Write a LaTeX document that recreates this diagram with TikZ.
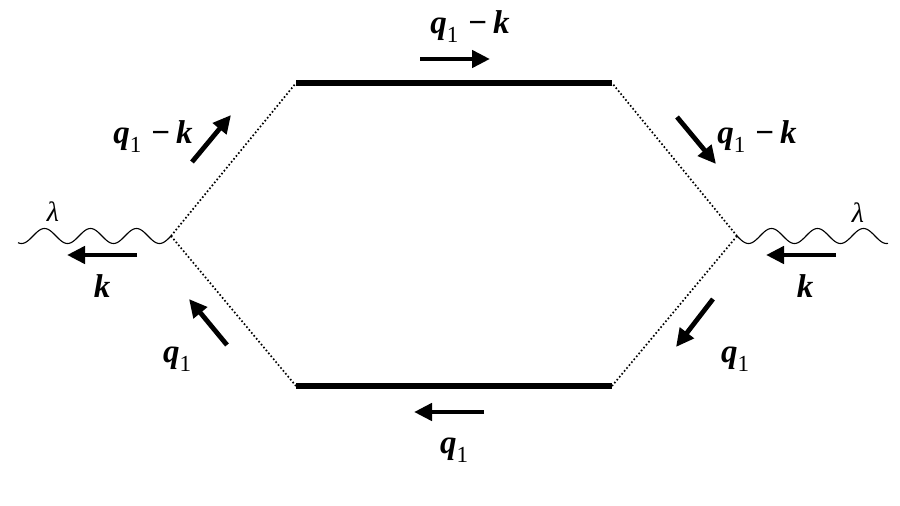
\documentclass[tikz,border=0pt]{standalone}
\usepackage{fontspec}
\setmainfont{Liberation Serif}
\usetikzlibrary{arrows.meta}
\newcommand\qone{{\bfseries\itshape q}\raisebox{-0.28em}{\fontsize{23}{26}\selectfont 1}}
\newcommand\kk{{\bfseries\itshape k}}
\newcommand\qmk{\qone\hspace{10pt}{\bfseries −}\hspace{6pt}\kk}
\tikzset{
  bar/.style={line width=6.5pt},
  prop/.style={line width=1.7pt, dash pattern=on 1.6pt off 2.2pt},
  mom/.style={line width=4.8pt, -{Triangle[length=18pt,width=17pt]}},
  lab/.style={inner sep=0pt, anchor=base, font=\fontsize{33}{36}\selectfont},
  lam/.style={inner sep=0pt, font=\fontsize{28}{32}\selectfont\itshape},
  wave/.style={line width=1.1pt}
}
\begin{document}
\begin{tikzpicture}[x=1pt,y=-1pt]
\useasboundingbox (0,0) rectangle (900,506);
% vertices and bar ends
\coordinate (L) at (171,236);
\coordinate (R) at (737,236);
\coordinate (TL) at (296,83);
\coordinate (TR) at (612,83);
\coordinate (BL) at (296,386);
\coordinate (BR) at (612,386);
% bars
\draw[bar] (TL) -- (TR);
\draw[bar] (BL) -- (BR);
% dotted propagators
\draw[prop] (L) -- (TL);
\draw[prop] (L) -- (BL);
\draw[prop] (R) -- (TR);
\draw[prop] (R) -- (BR);
% photon waves
\draw[wave] plot[domain=18:171, samples=160, smooth] (\x, {236+7.5*sin(7.826*(171-\x))});
\draw[wave] plot[domain=737:888, samples=160, smooth] (\x, {236+7.5*sin(7.826*(\x-737))});
\node[lam] (lamL) at (53,212) {λ};
\node[lam] (lamR) at (858,213) {λ};
% momentum arrows
\coordinate (a1s) at (420,59);  \coordinate (a1e) at (490,59);
\coordinate (a2s) at (484,412); \coordinate (a2e) at (414,412);
\coordinate (a3s) at (137,255); \coordinate (a3e) at (67,255);
\coordinate (a4s) at (836,255); \coordinate (a4e) at (766,255);
\coordinate (a5s) at (192,162); \coordinate (a5e) at (231,115);
\coordinate (a6s) at (227,345); \coordinate (a6e) at (189,299);
\coordinate (a7s) at (677,117); \coordinate (a7e) at (716,164);
\coordinate (a8s) at (713,299); \coordinate (a8e) at (676,347);
\draw[mom] (a1s) -- (a1e);
\draw[mom] (a2s) -- (a2e);
\draw[mom] (a3s) -- (a3e);
\draw[mom] (a4s) -- (a4e);
\draw[mom] (a5s) -- (a5e);
\draw[mom] (a6s) -- (a6e);
\draw[mom] (a7s) -- (a7e);
\draw[mom] (a8s) -- (a8e);
% labels
\node[lab] (t1) at (470,33) {\qmk};
\node[lab] (t2) at (153,143) {\qmk};
\node[lab] (t3) at (757,143) {\qmk};
\node[lab] (t4) at (102,297) {\kk};
\node[lab] (t5) at (805,297) {\kk};
\node[lab] (t6) at (177,362) {\qone};
\node[lab] (t7) at (735,362) {\qone};
\node[lab] (t8) at (454,453) {\qone};
\end{tikzpicture}
\end{document}
